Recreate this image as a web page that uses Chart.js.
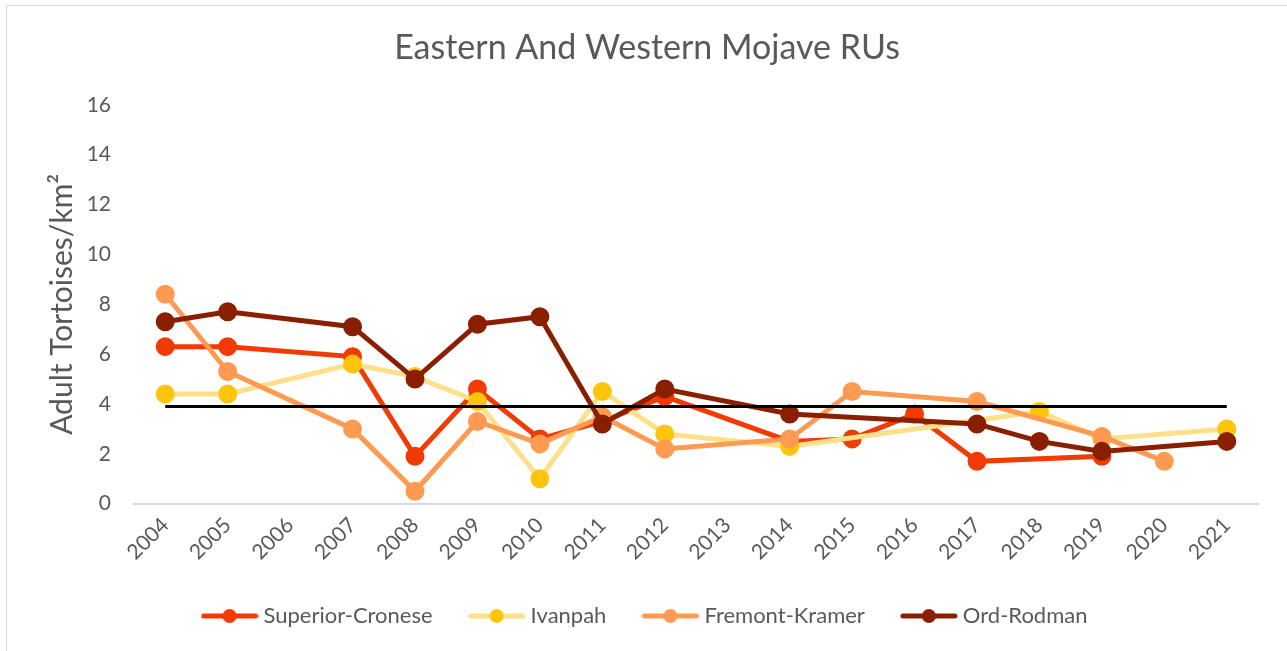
<!DOCTYPE html>
<html>
<head>
<meta charset="utf-8">
<script src="https://cdn.jsdelivr.net/npm/chart.js@4"></script>
<style>
  html, body { margin: 0; padding: 0; background: #fff; }
  #wrap { position: relative; width: 1287px; height: 651px; }
  #frame { position: absolute; left: 6px; top: 5px; width: 1300px; height: 700px; border: 1px solid #d9d9d9; box-sizing: border-box; }
  #myChart { position: absolute; left: 0; top: 0; }
</style>
</head>
<body>
<div id="wrap">
  <div id="frame"></div>
  <canvas id="myChart" width="1287" height="651"></canvas>
</div>
<script>
const years = ['2004', '2005', '2006', '2007', '2008', '2009', '2010', '2011', '2012',
  '2013', '2014', '2015', '2016', '2017', '2018', '2019', '2020', '2021'];

const superiorCronese = [6.3, 6.3, null, 5.9, 1.9, 4.6, 2.6, 3.3, 4.3, null, 2.5, 2.6, 3.6, 1.7, null, 1.9, null, null];
const ivanpah = [4.4, 4.4, null, 5.6, 5.1, 4.1, 1.0, 4.5, 2.8, null, 2.3, null, null, null, 3.7, 2.6, null, 3.0];
const fremontKramer = [8.4, 5.3, null, 3.0, 0.5, 3.3, 2.4, 3.5, 2.2, null, 2.6, 4.5, null, 4.1, null, 2.7, 1.7, null];
const ordRodman = [7.3, 7.7, null, 7.1, 5.0, 7.2, 7.5, 3.2, 4.6, null, 3.6, null, null, 3.2, 2.5, 2.1, null, 2.5];
const targetLine = [3.9, 3.9, 3.9, 3.9, 3.9, 3.9, 3.9, 3.9, 3.9, 3.9, 3.9, 3.9, 3.9, 3.9, 3.9, 3.9, 3.9, 3.9];

const yTicks = [0, 2, 4, 6, 8, 10, 12, 14, 16];

const textColor = '#595959';
const fontFamily = 'Lato, "Open Sans", sans-serif';

// small line + dot picture for each legend entry
const legendIcon = (lineColor, dotColor) => {
  const c = document.createElement('canvas');
  c.width = 58;
  c.height = 18;
  const g = c.getContext('2d');
  g.strokeStyle = lineColor;
  g.lineWidth = 5;
  g.lineCap = 'round';
  g.beginPath();
  g.moveTo(3, 9);
  g.lineTo(55, 9);
  g.stroke();
  g.fillStyle = dotColor;
  g.beginPath();
  g.arc(29, 9, 7, 0, Math.PI * 2);
  g.fill();
  return c;
};

const series = (label, data, lineColor, dotColor, order) => ({
  label: label,
  data: data,
  borderColor: lineColor,
  backgroundColor: dotColor,
  pointBackgroundColor: dotColor,
  pointBorderColor: dotColor,
  borderWidth: 5,
  pointRadius: 7,
  pointHoverRadius: 7,
  spanGaps: true,
  tension: 0,
  order: order,
  icon: legendIcon(lineColor, dotColor),
});

const renderChart = () => {
  const ctx = document.getElementById('myChart').getContext('2d');
  new Chart(ctx, {
    type: 'line',
    data: {
      labels: years,
      datasets: [
        series('Superior-Cronese', superiorCronese, '#F23A05', '#F23A05', 5),
        series('Ivanpah', ivanpah, '#FFE08A', '#FFC40C', 4),
        series('Fremont-Kramer', fremontKramer, '#FF9A52', '#FF9A52', 3),
        series('Ord-Rodman', ordRodman, '#8A1F00', '#8A1F00', 2),
        {
          label: 'target',
          data: targetLine,
          borderColor: '#000000',
          borderWidth: 3,
          pointRadius: 0,
          order: 1,
        },
      ],
    },
    options: {
      responsive: false,
      animation: false,
      layout: {
        padding: { top: 28, left: 36, right: 29, bottom: 14 },
      },
      plugins: {
        title: {
          display: true,
          text: 'Eastern And Western Mojave RUs',
          color: textColor,
          font: { family: fontFamily, size: 34, weight: 'normal' },
          padding: { top: 0, bottom: 36 },
        },
        legend: {
          position: 'bottom',
          labels: {
            color: textColor,
            font: { family: fontFamily, size: 22 },
            usePointStyle: true,
            pointStyleWidth: 46,
            padding: 41,
            filter: (item) => item.text !== 'target',
            generateLabels: (chart) => {
              const items = Chart.defaults.plugins.legend.labels.generateLabels(chart);
              items.forEach((item) => {
                const ds = chart.data.datasets[item.datasetIndex];
                if (ds.icon) item.pointStyle = ds.icon;
              });
              return items;
            },
            sort: (a, b) => a.datasetIndex - b.datasetIndex,
          },
        },
        tooltip: { enabled: false },
      },
      scales: {
        x: {
          offset: true,
          grid: { display: false, drawTicks: false, offset: true },
          border: { display: true, color: '#d9d9d9', width: 2 },
          ticks: {
            color: textColor,
            font: { family: fontFamily, size: 21 },
            minRotation: 45,
            maxRotation: 45,
            padding: 9,
            autoSkip: false,
          },
          afterFit: (axis) => {
            axis.height = axis.height - 10;
          },
        },
        y: {
          min: 0,
          max: 16,
          afterBuildTicks: (axis) => {
            axis.ticks = yTicks.map((v) => ({ value: v }));
          },
          afterFit: (axis) => {
            axis.width = 98;
          },
          grid: { display: false, drawTicks: false },
          border: { display: false },
          ticks: {
            color: textColor,
            font: { family: fontFamily, size: 21 },
            padding: 23,
          },
          title: {
            display: true,
            text: 'Adult Tortoises/km²',
            color: textColor,
            font: { family: fontFamily, size: 30 },
            padding: { top: 8, bottom: 8 },
          },
        },
      },
    },
  });
};

document.addEventListener('DOMContentLoaded', renderChart);
</script>
</body>
</html>
